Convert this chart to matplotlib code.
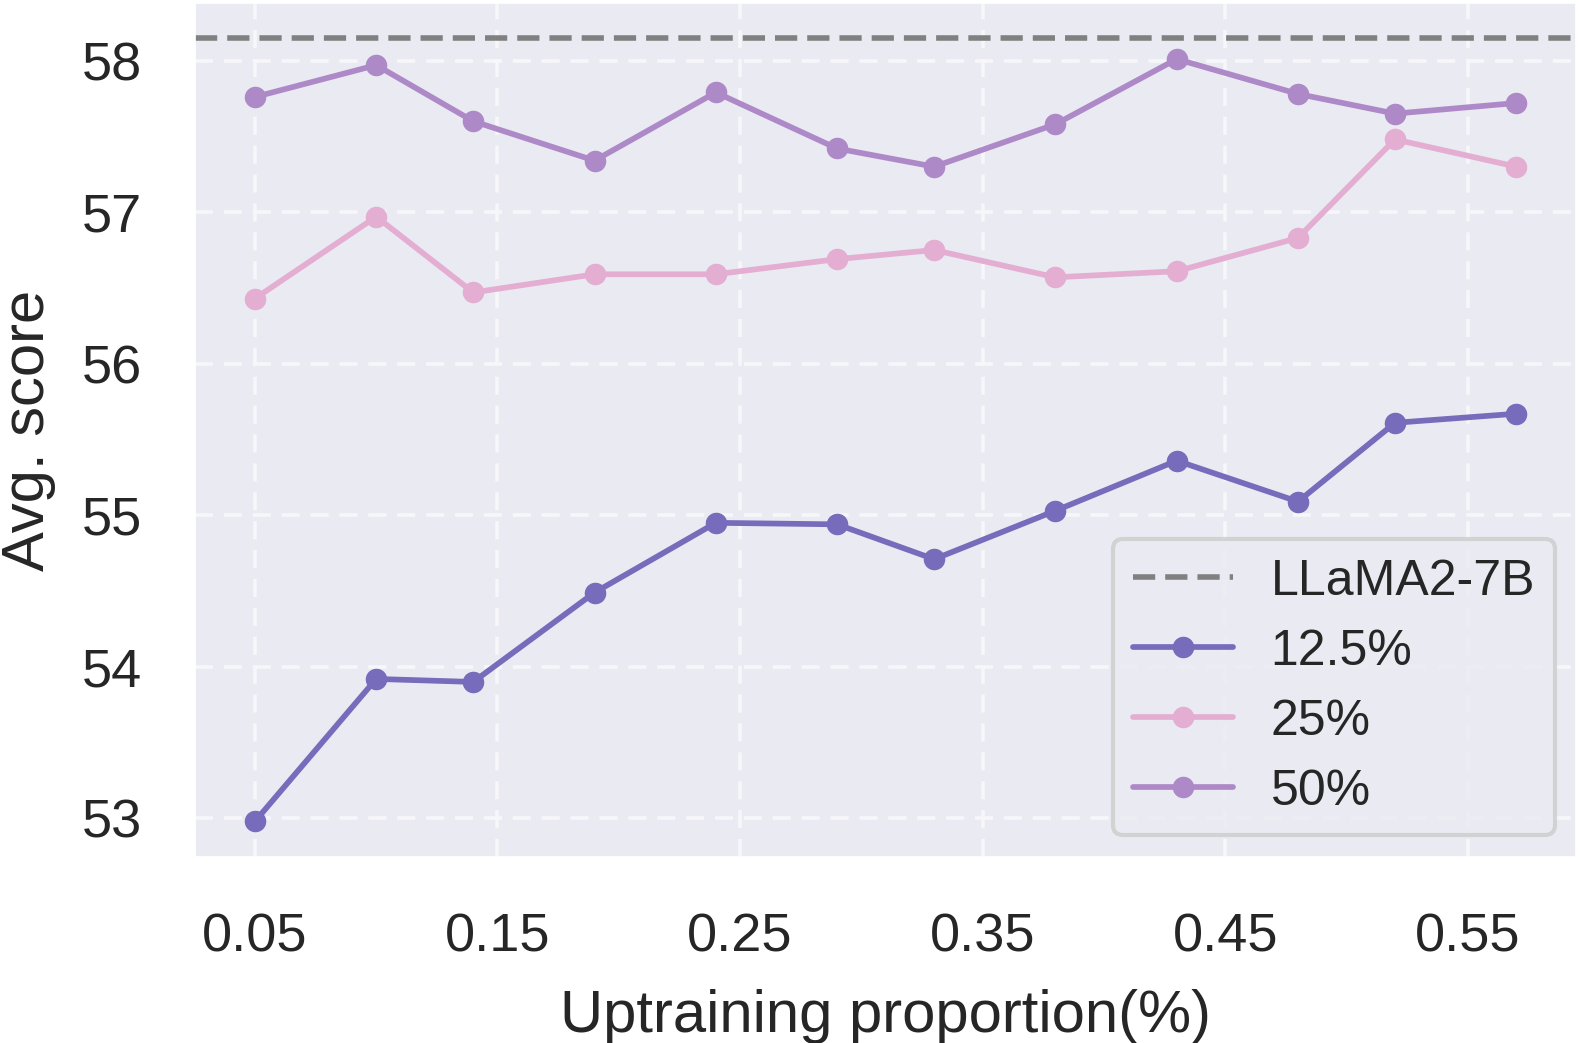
import matplotlib
matplotlib.use("Agg")
import matplotlib.pyplot as plt
import seaborn as sns

x = [0.05, 0.10, 0.14, 0.19, 0.24, 0.29, 0.33, 0.38, 0.43, 0.48, 0.52, 0.57]
s125 = [52.98, 53.92, 53.90, 54.49, 54.95, 54.94, 54.71, 55.03, 55.36, 55.09, 55.61, 55.67]
s25 = [56.43, 56.97, 56.47, 56.59, 56.59, 56.69, 56.75, 56.57, 56.61, 56.83, 57.48, 57.30]
s50 = [57.76, 57.97, 57.60, 57.34, 57.79, 57.42, 57.30, 57.58, 58.01, 57.78, 57.65, 57.72]
baseline = 58.15
xticks = [0.05, 0.15, 0.25, 0.35, 0.45, 0.55]
yticks = [53, 54, 55, 56, 57, 58]

sns.set_theme(style="darkgrid")
plt.rcParams['font.family'] = ['Liberation Sans', 'DejaVu Sans']

fig = plt.figure(figsize=(15.79, 10.43), dpi=100)
ax = fig.add_axes([195/1579, 1-857/1043, 1381/1579, 854/1043])
ax.set_facecolor('#eaeaf2')
ax.grid(True, linestyle=(0, (5, 3)), linewidth=2.6, color='#f7f7fa')

ax.axhline(baseline, color='#808080', linestyle=(0, (4, 1.8)), linewidth=4, label='LLaMA2-7B')
ax.plot(x, s125, color='#766cbb', marker='o', markersize=14.5, linewidth=4.1, label='12.5%')
ax.plot(x, s25, color='#e3aed2', marker='o', markersize=14.5, linewidth=4.1, label='25%')
ax.plot(x, s50, color='#ae89c8', marker='o', markersize=14.5, linewidth=4.1, label='50%')

ax.set_xlim(0.0253, 0.5946)
ax.set_ylim(52.745, 58.38)
ax.set_xticks(xticks)
ax.set_xticklabels([f"{t:.2f}" for t in xticks])
ax.set_yticks(yticks)
ax.tick_params(axis='both', labelsize=39, colors='#262626', length=0)
ax.tick_params(axis='x', pad=40)
ax.tick_params(axis='y', pad=38)
ax.set_xlabel('Uptraining proportion(%)', fontsize=43, color='#262626', labelpad=19)
ax.set_ylabel('Avg. score', fontsize=43, color='#262626', labelpad=19)

leg = ax.legend(loc='lower right', bbox_to_anchor=(0.9848, 0.0258), borderaxespad=0,
                fontsize=36, frameon=True, facecolor='#eaeaf2', edgecolor='#cccccc',
                handlelength=2.0, handletextpad=0.75, labelspacing=0.48, borderpad=0.4)
leg.get_frame().set_linewidth(3)
leg.get_frame().set_alpha(0.8)

fig.savefig('out.png', dpi=100)
